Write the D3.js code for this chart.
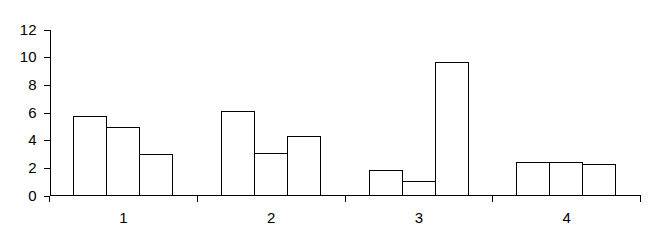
<!DOCTYPE html>
<html>
<head>
<meta charset="utf-8">
<script src="https://cdn.jsdelivr.net/npm/d3@7"></script>
<style>
  html, body { margin: 0; padding: 0; background: #fff; }
  svg { display: block; }
  text { font-family: "Liberation Sans", Arial, sans-serif; font-size: 15px; fill: #000; }
</style>
</head>
<body>
<svg id="chart" width="656" height="247"></svg>
<script>
const categories = ["1", "2", "3", "4"];
const seriesNames = ["A", "B", "C"];
const seriesA = [5.75, 6.1, 1.85, 2.4];
const seriesB = [4.95, 3.07, 1.06, 2.4];
const seriesC = [3.0, 4.3, 9.63, 2.28];
const yTicks = [0, 2, 4, 6, 8, 10, 12];

const series = [seriesA, seriesB, seriesC];
const svg = d3.select("#chart");

const x0 = 49.5, x1 = 640.5, yBottom = 195.5, yTop = 29.5;
const FONT = "'Liberation Sans', Arial, sans-serif";

const x = d3.scaleBand().domain(categories).range([x0, x1]).padding(0);
const bw = x.bandwidth();
const xs = d3.scaleBand().domain(seriesNames)
  .range([bw * 0.16, bw * 0.83]).padding(0);
const y = d3.scaleLinear().domain([0, 12]).range([yBottom, yTop]);

// bars
const groups = svg.append("g").selectAll("g")
  .data(categories)
  .join("g");

groups.selectAll("rect")
  .data((c, i) => series.map((s, j) => ({ cat: c, name: seriesNames[j], value: s[i] })))
  .join("rect")
  .attr("x", d => Math.round(x(d.cat) + xs(d.name)) + 0.5)
  .attr("y", d => Math.round(y(d.value)) + 0.5)
  .attr("width", Math.round(xs.bandwidth()))
  .attr("height", d => yBottom - (Math.round(y(d.value)) + 0.5))
  .attr("fill", "#fff")
  .attr("stroke", "#000")
  .attr("stroke-width", 1)
  .attr("shape-rendering", "crispEdges");

// y axis
const yAxis = svg.append("g")
  .attr("transform", `translate(${x0},0)`)
  .call(d3.axisLeft(y).tickValues(yTicks).tickSize(6).tickSizeOuter(0).tickPadding(7));
yAxis.selectAll("path, line").attr("stroke", "#000").attr("shape-rendering", "crispEdges");
yAxis.selectAll("text").style("font-size", "15px").style("font-family", FONT).attr("fill", "#000");

// x axis: line + ticks at category boundaries
const boundaries = categories.map(c => x(c)).concat([x1]);
svg.append("line")
  .attr("x1", x0).attr("x2", x1).attr("y1", yBottom).attr("y2", yBottom)
  .attr("stroke", "#000").attr("shape-rendering", "crispEdges");
svg.append("g").selectAll("line")
  .data(boundaries)
  .join("line")
  .attr("x1", d => Math.round(d - 0.5) + 0.5).attr("x2", d => Math.round(d - 0.5) + 0.5)
  .attr("y1", yBottom).attr("y2", yBottom + 6)
  .attr("stroke", "#000").attr("shape-rendering", "crispEdges");

// x labels at category centers
const xAxis = svg.append("g")
  .attr("transform", `translate(0,${yBottom})`)
  .call(d3.axisBottom(x).tickSize(0).tickPadding(17));
xAxis.select(".domain").remove();
xAxis.selectAll("text").style("font-size", "15px").style("font-family", FONT).attr("fill", "#000");
</script>
</body>
</html>
